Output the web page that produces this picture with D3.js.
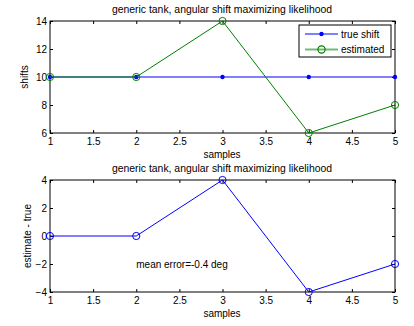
<!DOCTYPE html>
<html>
<head>
<meta charset="utf-8">
<script src="https://cdn.jsdelivr.net/npm/d3@7"></script>
<style>
  html, body { margin: 0; padding: 0; background: #fff; }
  svg { display: block; font-family: "Liberation Sans", Arial, sans-serif; }
</style>
</head>
<body>
<svg id="chart" width="414" height="326"></svg>
<script>
// Samples and shift values
const samples = [1, 2, 3, 4, 5];
const trueShift = [10, 10, 10, 10, 10];
const estimated = [10, 10, 14, 6, 8];
const errorVals = [0, 0, 4, -4, -2];

const xTicks = [1, 1.5, 2, 2.5, 3, 3.5, 4, 4.5, 5];
const yTicksTop = [6, 8, 10, 12, 14];
const yTicksBottom = [-4, -2, 0, 2, 4];

const titleText = "generic tank, angular shift maximizing likelihood";
const meanErrorText = "mean error=-0.4 deg";

const svg = d3.select("#chart");
const blue = "#0000ff", green = "#008000";
const fs = "10px";

function panel(top, bottom, yDomain, yTicks, yLabel, yLabelX) {
  const x = d3.scaleLinear().domain([1, 5]).range([50, 395]);
  const y = d3.scaleLinear().domain(yDomain).range([bottom, top]);
  const g = svg.append("g");

  // ticks pointing inward on all four sides
  const tl = 3;
  const axes = [
    [d3.axisBottom(x).tickValues(xTicks).tickSizeInner(-tl).tickSizeOuter(0).tickPadding(5).tickFormat(d3.format("")), `translate(0,${bottom})`],
    [d3.axisTop(x).tickValues(xTicks).tickSizeInner(-tl).tickSizeOuter(0).tickFormat(""), `translate(0,${top})`],
    [d3.axisLeft(y).tickValues(yTicks).tickSizeInner(-tl).tickSizeOuter(0).tickPadding(3), `translate(50,0)`],
    [d3.axisRight(y).tickValues(yTicks).tickSizeInner(-tl).tickSizeOuter(0).tickFormat(""), `translate(395,0)`]
  ];
  axes.forEach(([ax, tr]) => {
    const a = g.append("g").attr("transform", tr).call(ax);
    a.select(".domain").remove();
    a.selectAll("line").attr("stroke", "#000").attr("stroke-width", 1);
    a.selectAll("text").attr("fill", "#000").style("font-size", fs);
  });

  g.append("rect")
    .attr("x", 50).attr("y", top)
    .attr("width", 345).attr("height", bottom - top)
    .attr("fill", "none").attr("stroke", "#000").attr("stroke-width", 1);

  g.append("text")
    .attr("x", 222).attr("y", top - 8)
    .attr("text-anchor", "middle")
    .style("font-size", "10.4px")
    .text(titleText);

  g.append("text")
    .attr("x", 222).attr("y", bottom + 25)
    .attr("text-anchor", "middle")
    .style("font-size", fs)
    .text("samples");

  g.append("text")
    .attr("transform", `translate(${yLabelX},${(top + bottom) / 2}) rotate(-90)`)
    .attr("text-anchor", "middle")
    .style("font-size", fs)
    .text(yLabel);

  return { x, y, g };
}

// Upper panel: true and estimated shifts
const p1 = panel(21, 133, [6, 14], yTicksTop, "shifts", 28);
const line1 = d3.line().x((d, i) => p1.x(samples[i])).y(d => p1.y(d));
p1.g.append("path").datum(trueShift).attr("d", line1)
  .attr("fill", "none").attr("stroke", blue).attr("stroke-width", 1);
p1.g.selectAll(".dot").data(trueShift).join("circle")
  .attr("cx", (d, i) => p1.x(samples[i])).attr("cy", d => p1.y(d))
  .attr("r", 2.2).attr("fill", blue);
p1.g.append("path").datum(estimated).attr("d", line1)
  .attr("fill", "none").attr("stroke", green).attr("stroke-width", 1);
p1.g.selectAll(".circ").data(estimated).join("circle")
  .attr("cx", (d, i) => p1.x(samples[i])).attr("cy", d => p1.y(d))
  .attr("r", 3.6).attr("fill", "none").attr("stroke", green).attr("stroke-width", 1);

// legend
const lg = p1.g.append("g");
lg.append("rect").attr("x", 299).attr("y", 25).attr("width", 92).attr("height", 32)
  .attr("fill", "#fff").attr("stroke", "#000").attr("stroke-width", 1);
lg.append("line").attr("x1", 305).attr("x2", 338).attr("y1", 34).attr("y2", 34)
  .attr("stroke", blue).attr("stroke-width", 1);
lg.append("circle").attr("cx", 321.5).attr("cy", 34).attr("r", 2.2).attr("fill", blue);
lg.append("text").attr("x", 341).attr("y", 34).attr("dy", "0.35em")
  .style("font-size", fs).text("true shift");
lg.append("line").attr("x1", 305).attr("x2", 338).attr("y1", 49.5).attr("y2", 49.5)
  .attr("stroke", green).attr("stroke-opacity", 0.55).attr("stroke-width", 2);
lg.append("circle").attr("cx", 321.5).attr("cy", 49.5).attr("r", 3.6)
  .attr("fill", "none").attr("stroke", green).attr("stroke-width", 1.2);
lg.append("text").attr("x", 341).attr("y", 49.5).attr("dy", "0.35em")
  .style("font-size", fs).text("estimated");

// Lower panel: estimation error
const p2 = panel(180, 292, [-4, 4], yTicksBottom, "estimate - true", 31);
const line2 = d3.line().x((d, i) => p2.x(samples[i])).y(d => p2.y(d));
p2.g.append("path").datum(errorVals).attr("d", line2)
  .attr("fill", "none").attr("stroke", blue).attr("stroke-width", 1);
p2.g.selectAll(".circ").data(errorVals).join("circle")
  .attr("cx", (d, i) => p2.x(samples[i])).attr("cy", d => p2.y(d))
  .attr("r", 3.6).attr("fill", "none").attr("stroke", blue).attr("stroke-width", 1);
p2.g.append("text")
  .attr("x", p2.x(2)).attr("y", p2.y(-2)).attr("dy", "0.35em")
  .style("font-size", fs).text(meanErrorText);
</script>
</body>
</html>
